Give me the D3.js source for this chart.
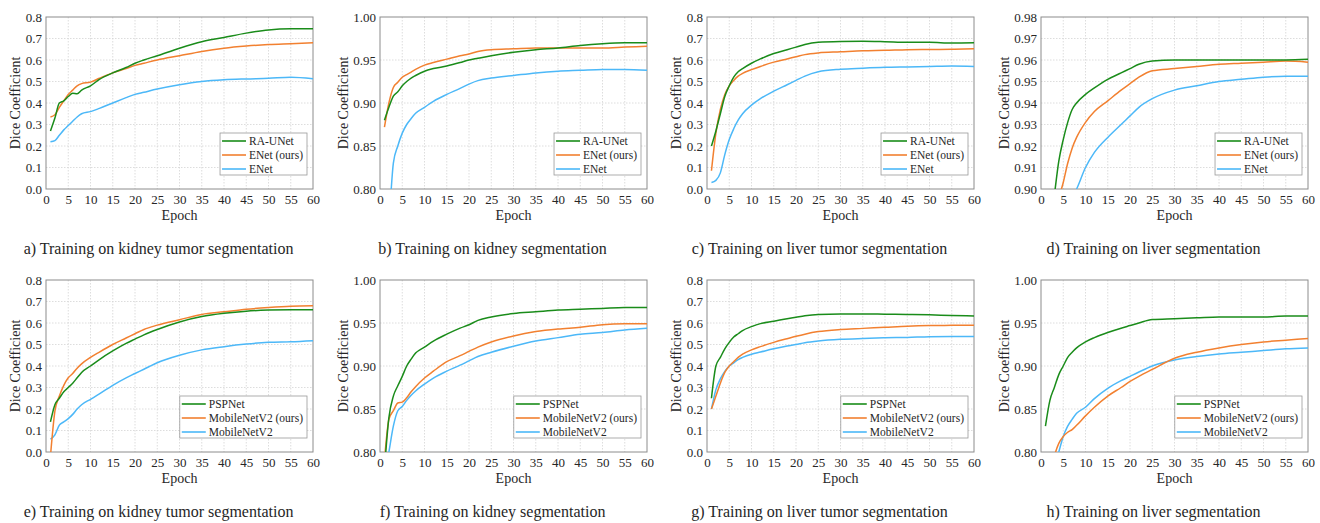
<!DOCTYPE html>
<html lang="en">
<head>
<meta charset="utf-8">
<style>
  body { margin: 0; background: #fff; }
  svg text { font-family: "Liberation Serif", Tinos, "Times New Roman", "DejaVu Serif", serif !important; fill: #262626; }
</style>
</head>
<body>
<script src="https://d3js.org/d3.v7.min.js"></script>
<script>
    var epochs = [1, 2, 3, 4, 5, 6, 7, 8, 10, 12, 15, 18, 20, 22, 25, 30, 35, 40, 45, 50, 55, 60];
    var xTicks = [0, 5, 10, 15, 20, 25, 30, 35, 40, 45, 50, 55, 60];

    var tumorTicks = [0.0, 0.1, 0.2, 0.3, 0.4, 0.5, 0.6, 0.7, 0.8];
    var organTicks = [0.80, 0.85, 0.90, 0.95, 1.00];
    var liverTicks = [0.90, 0.91, 0.92, 0.93, 0.94, 0.95, 0.96, 0.97, 0.98];

    var namesTop = ["RA-UNet", "ENet (ours)", "ENet"];
    var namesBottom = ["PSPNet", "MobileNetV2 (ours)", "MobileNetV2"];

    var captions = [
        "a) Training on kidney tumor segmentation",
        "b) Training on kidney segmentation",
        "c) Training on liver tumor segmentation",
        "d) Training on liver segmentation",
        "e) Training on kidney tumor segmentation",
        "f) Training on kidney segmentation",
        "g) Training on liver tumor segmentation",
        "h) Training on liver segmentation"
    ];

    // a) kidney tumor
    var aRAUNet = [0.27, 0.33, 0.40, 0.41, 0.43, 0.445, 0.443, 0.46, 0.48, 0.51, 0.54, 0.565, 0.585, 0.60, 0.62, 0.655, 0.685, 0.705, 0.725, 0.74, 0.745, 0.745];
    var aENetOurs = [0.335, 0.345, 0.38, 0.41, 0.44, 0.46, 0.48, 0.49, 0.497, 0.515, 0.54, 0.56, 0.575, 0.585, 0.60, 0.62, 0.64, 0.655, 0.665, 0.672, 0.676, 0.68];
    var aENet = [0.22, 0.225, 0.25, 0.275, 0.295, 0.315, 0.335, 0.35, 0.36, 0.375, 0.40, 0.425, 0.44, 0.45, 0.465, 0.485, 0.50, 0.508, 0.512, 0.515, 0.52, 0.513];
    // b) kidney
    var bRAUNet = [0.88, 0.895, 0.908, 0.913, 0.92, 0.925, 0.929, 0.932, 0.937, 0.94, 0.943, 0.947, 0.95, 0.952, 0.955, 0.959, 0.962, 0.964, 0.967, 0.969, 0.97, 0.97];
    var bENetOurs = [0.872, 0.90, 0.918, 0.924, 0.93, 0.933, 0.936, 0.939, 0.944, 0.947, 0.951, 0.955, 0.957, 0.96, 0.962, 0.963, 0.964, 0.964, 0.964, 0.964, 0.965, 0.966];
    var bENet = [0.70, 0.76, 0.83, 0.85, 0.865, 0.875, 0.882, 0.888, 0.895, 0.902, 0.91, 0.917, 0.922, 0.926, 0.929, 0.932, 0.935, 0.937, 0.938, 0.939, 0.939, 0.938];
    // c) liver tumor
    var cRAUNet = [0.20, 0.27, 0.35, 0.43, 0.48, 0.52, 0.545, 0.56, 0.585, 0.605, 0.63, 0.648, 0.66, 0.672, 0.682, 0.686, 0.687, 0.685, 0.682, 0.682, 0.679, 0.68];
    var cENetOurs = [0.085, 0.26, 0.37, 0.44, 0.48, 0.505, 0.525, 0.538, 0.555, 0.57, 0.59, 0.605, 0.615, 0.625, 0.633, 0.638, 0.643, 0.645, 0.648, 0.649, 0.65, 0.652];
    var cENet = [0.03, 0.04, 0.075, 0.16, 0.23, 0.28, 0.32, 0.35, 0.39, 0.42, 0.455, 0.485, 0.505, 0.525, 0.545, 0.557, 0.562, 0.566, 0.568, 0.57, 0.572, 0.57];
    // d) liver
    var dRAUNet = [0.86, 0.88, 0.897, 0.913, 0.923, 0.931, 0.937, 0.94, 0.944, 0.947, 0.951, 0.954, 0.956, 0.958, 0.9595, 0.96, 0.96, 0.96, 0.96, 0.96, 0.96, 0.9603];
    var dENetOurs = [0.80, 0.85, 0.88, 0.895, 0.903, 0.912, 0.919, 0.924, 0.931, 0.936, 0.941, 0.946, 0.949, 0.952, 0.955, 0.956, 0.957, 0.958, 0.9585, 0.959, 0.9595, 0.959];
    var dENet = [0.80, 0.83, 0.85, 0.87, 0.88, 0.89, 0.896, 0.90, 0.91, 0.917, 0.924, 0.93, 0.934, 0.938, 0.942, 0.946, 0.948, 0.95, 0.951, 0.952, 0.9525, 0.9525];
    // e) kidney tumor
    var ePSPNet = [0.14, 0.22, 0.25, 0.28, 0.30, 0.32, 0.345, 0.37, 0.40, 0.43, 0.47, 0.505, 0.525, 0.545, 0.57, 0.605, 0.63, 0.645, 0.655, 0.66, 0.662, 0.662];
    var eMobileOurs = [-0.02, 0.19, 0.26, 0.31, 0.345, 0.365, 0.39, 0.41, 0.44, 0.465, 0.50, 0.53, 0.55, 0.57, 0.59, 0.615, 0.64, 0.652, 0.664, 0.672, 0.678, 0.68];
    var eMobile = [0.06, 0.08, 0.125, 0.14, 0.155, 0.175, 0.20, 0.22, 0.245, 0.27, 0.31, 0.345, 0.365, 0.385, 0.415, 0.45, 0.475, 0.49, 0.502, 0.51, 0.513, 0.518];
    // f) kidney
    var fPSPNet = [0.78, 0.84, 0.865, 0.877, 0.888, 0.90, 0.908, 0.915, 0.922, 0.929, 0.937, 0.944, 0.948, 0.953, 0.957, 0.961, 0.963, 0.965, 0.966, 0.967, 0.968, 0.968];
    var fMobileOurs = [0.79, 0.838, 0.848, 0.857, 0.858, 0.863, 0.87, 0.876, 0.886, 0.894, 0.905, 0.912, 0.917, 0.922, 0.928, 0.935, 0.94, 0.943, 0.945, 0.948, 0.949, 0.949];
    var fMobile = [0.77, 0.80, 0.83, 0.848, 0.853, 0.86, 0.866, 0.871, 0.879, 0.886, 0.894, 0.901, 0.906, 0.911, 0.916, 0.923, 0.929, 0.933, 0.937, 0.939, 0.942, 0.944];
    // g) liver tumor
    var gPSPNet = [0.25, 0.40, 0.44, 0.48, 0.51, 0.535, 0.55, 0.565, 0.583, 0.597, 0.608, 0.62, 0.627, 0.634, 0.64, 0.642, 0.642, 0.641, 0.64, 0.638, 0.635, 0.633];
    var gMobileOurs = [0.20, 0.26, 0.32, 0.37, 0.40, 0.42, 0.44, 0.455, 0.475, 0.49, 0.51, 0.527, 0.538, 0.548, 0.56, 0.57, 0.575, 0.58, 0.585, 0.588, 0.589, 0.59];
    var gMobile = [0.20, 0.29, 0.34, 0.375, 0.40, 0.415, 0.43, 0.44, 0.455, 0.465, 0.48, 0.493, 0.50, 0.508, 0.516, 0.524, 0.528, 0.531, 0.533, 0.536, 0.537, 0.537];
    // h) liver
    var hPSPNet = [0.83, 0.86, 0.875, 0.89, 0.90, 0.91, 0.916, 0.921, 0.928, 0.933, 0.939, 0.944, 0.947, 0.95, 0.954, 0.955, 0.956, 0.957, 0.957, 0.957, 0.958, 0.958];
    var hMobileOurs = [0.74, 0.77, 0.795, 0.81, 0.818, 0.823, 0.826, 0.831, 0.842, 0.852, 0.865, 0.875, 0.882, 0.888, 0.896, 0.909, 0.916, 0.921, 0.925, 0.928, 0.93, 0.932];
    var hMobile = [0.74, 0.76, 0.78, 0.80, 0.818, 0.83, 0.838, 0.845, 0.852, 0.862, 0.874, 0.883, 0.888, 0.893, 0.90, 0.907, 0.911, 0.914, 0.916, 0.918, 0.92, 0.921];

    var colors = ["#1a8c1a", "#f28030", "#4cb8f8"];

    var panels = [
        { ticks: tumorTicks, fmt: ".1f", names: namesTop, series: [aRAUNet, aENetOurs, aENet] },
        { ticks: organTicks, fmt: ".2f", names: namesTop, series: [bRAUNet, bENetOurs, bENet] },
        { ticks: tumorTicks, fmt: ".1f", names: namesTop, series: [cRAUNet, cENetOurs, cENet] },
        { ticks: liverTicks, fmt: ".2f", names: namesTop, series: [dRAUNet, dENetOurs, dENet] },
        { ticks: tumorTicks, fmt: ".1f", names: namesBottom, series: [ePSPNet, eMobileOurs, eMobile] },
        { ticks: organTicks, fmt: ".2f", names: namesBottom, series: [fPSPNet, fMobileOurs, fMobile] },
        { ticks: tumorTicks, fmt: ".1f", names: namesBottom, series: [gPSPNet, gMobileOurs, gMobile] },
        { ticks: organTicks, fmt: ".2f", names: namesBottom, series: [hPSPNet, hMobileOurs, hMobile] }
    ];

    var width = 1320, height = 523;
    var lefts = [46, 380, 707, 1041], tops = [17, 280];
    var pw = 267, ph = 172;
    var serif = "'Liberation Serif', Tinos, 'Times New Roman', 'DejaVu Serif', serif";

    var svg = d3.select("body").append("svg")
        .attr("width", width)
        .attr("height", height)
        .attr("font-family", serif);

    panels.forEach(function (p, i) {
        var x0 = lefts[i % 4], y0 = tops[Math.floor(i / 4)];
        var g = svg.append("g").attr("transform", "translate(" + x0 + "," + y0 + ")");

        var x = d3.scaleLinear().domain([0, 60]).range([0, pw]);
        var y = d3.scaleLinear().domain(d3.extent(p.ticks)).range([ph, 0]);

        g.append("clipPath").attr("id", "clip" + i)
            .append("rect").attr("width", pw).attr("height", ph);

        // grid
        g.selectAll(".gx").data(xTicks.slice(1, -1)).enter().append("line")
            .attr("x1", x).attr("x2", x).attr("y1", 0).attr("y2", ph)
            .attr("stroke", "#d4d4d4").attr("stroke-dasharray", "1.5,1.5").attr("stroke-width", 0.8);
        g.selectAll(".gy").data(p.ticks.slice(1, -1)).enter().append("line")
            .attr("y1", y).attr("y2", y).attr("x1", 0).attr("x2", pw)
            .attr("stroke", "#d4d4d4").attr("stroke-dasharray", "1.5,1.5").attr("stroke-width", 0.8);

        // axes
        var xAxis = g.append("g").attr("transform", "translate(0," + ph + ")")
            .call(d3.axisBottom(x).tickValues(xTicks).tickSize(0).tickPadding(6));
        var yAxis = g.append("g")
            .call(d3.axisLeft(y).tickValues(p.ticks).tickFormat(d3.format(p.fmt)).tickSize(0).tickPadding(4));
        [xAxis, yAxis].forEach(function (a) {
            a.attr("font-family", serif).attr("font-size", 13);
            a.select(".domain").remove();
        });

        g.append("rect").attr("width", pw).attr("height", ph)
            .attr("fill", "none").attr("stroke", "#8c8c8c").attr("stroke-width", 1);

        // lines
        var line = d3.line()
            .x(function (d, k) { return x(epochs[k]); })
            .y(function (d) { return y(d); })
            .curve(d3.curveMonotoneX);
        var lg = g.append("g").attr("clip-path", "url(#clip" + i + ")");
        p.series.slice().reverse().forEach(function (s, k) {
            lg.append("path").datum(s)
                .attr("d", line)
                .attr("fill", "none")
                .attr("stroke", colors[2 - k])
                .attr("stroke-width", 1.5);
        });

        // labels
        g.append("text")
            .attr("transform", "translate(" + (p.fmt === ".2f" ? -37 : -31) + "," + ph / 2 + ") rotate(-90)")
            .attr("text-anchor", "middle").attr("dy", "0.35em")
            .attr("font-size", 14).text("Dice Coefficient");
        g.append("text")
            .attr("x", pw / 2).attr("y", ph + 31)
            .attr("text-anchor", "middle").attr("font-size", 14).text("Epoch");
        g.append("text")
            .attr("x", pw / 2 - 21).attr("y", ph + 65)
            .attr("text-anchor", "middle").attr("font-size", 16).text(captions[i]);

        // legend
        var leg = g.append("g");
        var box = leg.append("rect").attr("fill", "#fff").attr("stroke", "#9a9a9a").attr("stroke-width", 0.8);
        var maxW = 0;
        p.names.forEach(function (n, k) {
            leg.append("line").attr("x1", 2).attr("x2", 26).attr("y1", 8 + k * 14).attr("y2", 8 + k * 14)
                .attr("stroke", colors[k]).attr("stroke-width", 1.6);
            var t = leg.append("text").attr("x", 29).attr("y", 8 + k * 14).attr("dy", "0.35em")
                .attr("font-size", 11.5).text(n);
            maxW = Math.max(maxW, t.node().getComputedTextLength());
        });
        var bw = 29 + maxW + 4, bh = 42;
        box.attr("width", bw).attr("height", bh);
        leg.attr("transform", "translate(" + (pw - 6 - bw) + "," + (ph - 14 - bh) + ")");
    });
</script>
</body>
</html>
